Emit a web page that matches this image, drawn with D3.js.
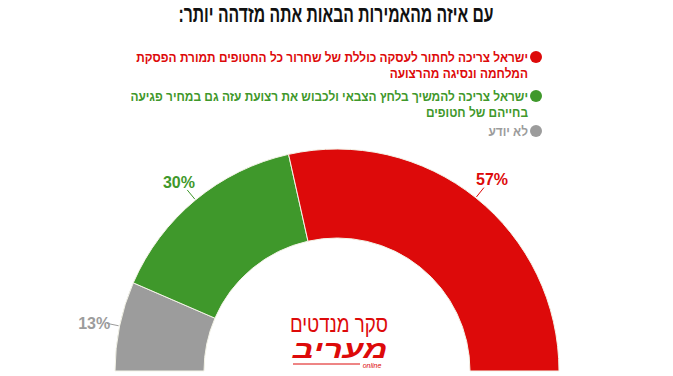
<!DOCTYPE html>
<html lang="he" dir="rtl">
<head>
<meta charset="utf-8">
<script src="https://cdn.jsdelivr.net/npm/d3@7"></script>
<style>
  body { margin: 0; background: #fff; }
  svg { display: block; font-family: "Liberation Sans", Arial, sans-serif; }
</style>
</head>
<body>
<div id="chart"></div>
<script>
// data, in drawing order from the left of the half-donut
const answers = ["לא יודע", "ישראל צריכה להמשיך בלחץ הצבאי ולכבוש את רצועת עזה גם במחיר פגיעה בחייהם של חטופים", "ישראל צריכה לחתור לעסקה כוללת של שחרור כל החטופים תמורת הפסקת המלחמה ונסיגה מהרצועה"];
const values = [13, 30, 57];
const colors = ["#9c9c9c", "#3f982b", "#dd0a0a"];
const legendLines = [
  ["ישראל צריכה לחתור לעסקה כוללת של שחרור כל החטופים תמורת הפסקת", "המלחמה ונסיגה מהרצועה"],
  ["ישראל צריכה להמשיך בלחץ הצבאי ולכבוש את רצועת עזה גם במחיר פגיעה", "בחייהם של חטופים"],
  ["לא יודע"]
];
const legendColors = ["#dd0a0a", "#3f982b", "#9c9c9c"];
const title = "עם איזה מהאמירות הבאות אתה מזדהה יותר:";

const width = 673, height = 376;
const cx = 337, cy = 371;
const outerR = 222, innerR = 133;

const svg = d3.select("#chart").append("svg")
  .attr("width", width)
  .attr("height", height);

// condensed title: squeeze to the reference width
svg.append("text")
  .attr("x", 336)
  .attr("y", 22)
  .attr("text-anchor", "middle")
  .attr("textLength", 315)
  .attr("lengthAdjust", "spacingAndGlyphs")
  .style("font-weight", "bold")
  .style("font-size", "23px")
  .attr("fill", "#111")
  .text(title);

// legend
const legend = svg.append("g");
let ly = 57;
legendLines.forEach((lines, i) => {
  legend.append("circle")
    .attr("cx", 536).attr("cy", ly)
    .attr("r", 6)
    .attr("fill", legendColors[i]);
  lines.forEach((ln, j) => {
    legend.append("text")
      .attr("transform", `translate(528,${ly + j * 15.5 + 5}) scale(0.9,1)`)
      .attr("text-anchor", "start")
      .style("font-weight", "bold")
      .style("font-size", "13.2px")
      .attr("fill", legendColors[i])
      .text(ln);
  });
  ly += i === 0 ? 39 : 35;
});

// half donut
const pie = d3.pie().sort(null).startAngle(-Math.PI / 2).endAngle(Math.PI / 2);
const arcs = pie(values);
const arc = d3.arc().innerRadius(innerR).outerRadius(outerR);

const g = svg.append("g").attr("transform", `translate(${cx},${cy})`);
g.selectAll("path")
  .data(arcs)
  .enter()
  .append("path")
  .attr("d", arc)
  .attr("fill", (d, i) => colors[i])
  .attr("stroke", "#f4f4e8")
  .attr("stroke-width", 1);

// labels with connector lines
const ringAt = (r) => d3.arc().innerRadius(r).outerRadius(r);
g.selectAll("line.conn")
  .data(arcs)
  .enter()
  .append("line")
  .attr("class", "conn")
  .attr("x1", d => ringAt(outerR + 1).centroid(d)[0])
  .attr("y1", d => ringAt(outerR + 1).centroid(d)[1])
  .attr("x2", d => ringAt(outerR + 13).centroid(d)[0])
  .attr("y2", d => ringAt(outerR + 13).centroid(d)[1])
  .attr("stroke", (d, i) => colors[i])
  .attr("stroke-width", 1);

g.selectAll("text.lbl")
  .data(arcs)
  .enter()
  .append("text")
  .attr("class", "lbl")
  .attr("x", d => ringAt(outerR + 26).centroid(d)[0])
  .attr("y", d => ringAt(outerR + 26).centroid(d)[1] + 8)
  .attr("text-anchor", "middle")
  .attr("direction", "ltr")
  .style("font-weight", "bold")
  .style("font-size", "16px")
  .attr("fill", (d, i) => colors[i])
  .text(d => d.data + "%");

// logo
const logo = svg.append("g");
logo.append("text")
  .attr("x", 339).attr("y", 332)
  .attr("text-anchor", "middle")
  .attr("textLength", 98)
  .attr("lengthAdjust", "spacingAndGlyphs")
  .style("font-size", "24px")
  .attr("fill", "#dd0a0a")
  .text("סקר מנדטים");
logo.append("text")
  .attr("x", 340).attr("y", 358)
  .attr("text-anchor", "middle")
  .attr("textLength", 95)
  .attr("lengthAdjust", "spacingAndGlyphs")
  .style("font-weight", "900")
  .style("font-style", "italic")
  .style("font-size", "25px")
  .attr("fill", "#dd0a0a")
  .text("מעריב");
logo.append("line")
  .attr("x1", 293).attr("x2", 360)
  .attr("y1", 364).attr("y2", 364)
  .attr("stroke", "#dd0a0a").attr("stroke-width", 1);
logo.append("text")
  .attr("x", 372).attr("y", 368)
  .attr("text-anchor", "middle")
  .attr("direction", "ltr")
  .style("font-style", "italic")
  .style("font-size", "7px")
  .attr("fill", "#dd0a0a")
  .text("online");
</script>
</body>
</html>
